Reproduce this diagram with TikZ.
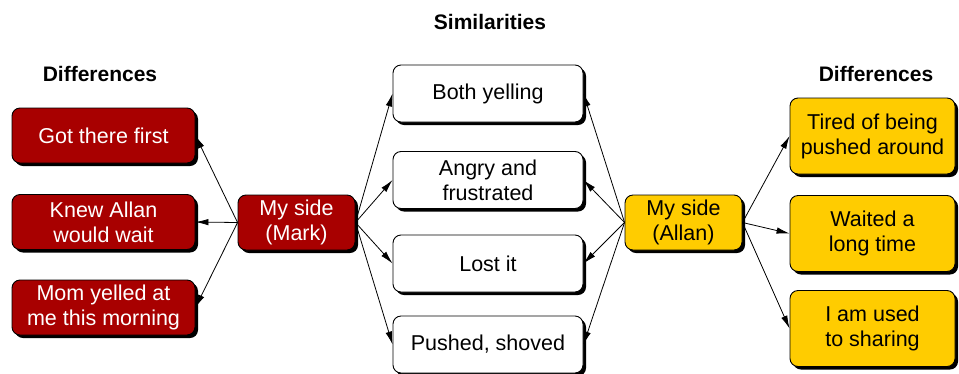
\documentclass[tikz,border=0pt]{standalone}
\usepackage{fontspec}
\setmainfont{Liberation Sans}
\usetikzlibrary{shadows,arrows.meta}
\definecolor{darkred}{RGB}{168,0,0}
\definecolor{gold}{RGB}{255,204,0}
\tikzset{
  box/.style={draw=black, line width=0.9pt, rounded corners=8pt, align=center,
    inner sep=0pt, font=\fontsize{21.5}{25}\selectfont,
    drop shadow={shadow xshift=3pt, shadow yshift=-3pt, fill=black, opacity=1}},
  redbox/.style={box, fill=darkred, text=white, minimum width=183pt, minimum height=55pt},
  markbox/.style={box, fill=darkred, text=white, minimum width=117pt, minimum height=55pt},
  midbox/.style={box, fill=white, text=black, minimum width=190pt, minimum height=57pt},
  allanbox/.style={box, fill=gold, text=black, minimum width=117pt, minimum height=55pt},
  goldbox/.style={box, fill=gold, text=black, minimum width=165pt, minimum height=76pt},
  heading/.style={font=\fontsize{21}{24}\selectfont\bfseries, inner sep=0pt},
  conn/.style={line width=0.8pt, -{Latex[length=13pt,width=6.5pt]}}
}
\begin{document}
\begin{tikzpicture}[x=1pt,y=-1pt]
\useasboundingbox (0,0) rectangle (959,373);
\node[heading] (sim) at (490,22) {Similarities};
\node[heading] (difL) at (100,74) {Differences};
\node[heading] (difR) at (876,74) {Differences};

\node[redbox] (l1) at (103.5,135.5) {Got there first};
\node[redbox] (l2) at (103.5,222) {Knew Allan\\would wait};
\node[redbox] (l3) at (103.5,307.5) {Mom yelled at\\me this morning};

\node[markbox] (mark) at (296.5,222.5) {My side\\(Mark)};

\node[midbox] (m1) at (488,93.5) {Both yelling};
\node[midbox] (m2) at (488,180) {Angry and\\frustrated};
\node[midbox] (m3) at (488,263.5) {Lost it};
\node[midbox] (m4) at (488,344.5) {Pushed, shoved};

\node[allanbox] (allan) at (683.5,222.5) {My side\\(Allan)};

\node[goldbox] (r1) at (872.5,136) {Tired of being\\pushed around};
\node[goldbox] (r2) at (872.5,233.5) {Waited a\\long time};
\node[goldbox] (r3) at (872.5,328.5) {I am used\\to sharing};

\foreach \t in {l1,l2,l3} \draw[conn] (mark.west) -- (\t.east);
\foreach \t in {m1,m2,m3,m4} \draw[conn] (mark.east) -- (\t.west);
\foreach \t in {m1,m2,m3,m4} \draw[conn] (allan.west) -- (\t.east);
\foreach \t in {r1,r2,r3} \draw[conn] (allan.east) -- (\t.west);
\end{tikzpicture}
\end{document}
